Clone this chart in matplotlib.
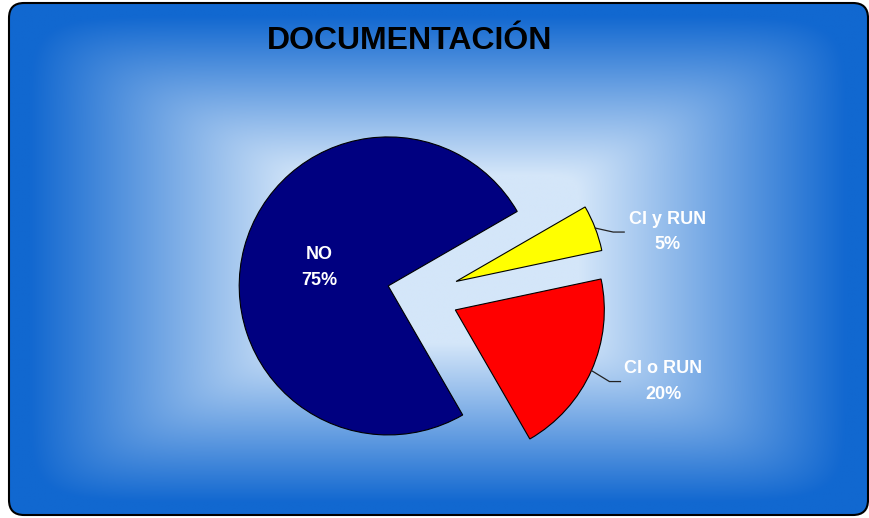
import numpy as np
import matplotlib
matplotlib.use("Agg")
import matplotlib.pyplot as plt
from matplotlib.patches import FancyBboxPatch

plt.rcParams['font.family'] = ['Liberation Sans', 'DejaVu Sans']

# data
labels = ['CI o RUN', 'CI y RUN', 'NO']
shares = [20, 5, 75]
colors = ['#FF0000', '#FFFF00', '#000080']
title = 'DOCUMENTACIÓN'

W, H = 870, 518
fig = plt.figure(figsize=(8.7, 5.18), dpi=100)
ax = fig.add_axes([0, 0, 1, 1])

# background: rectangular gradient from light centre to deep blue edge
x0, x1, y0, y1 = 9, 868, 3, 515
gx = np.linspace(x0, x1, 700)
gy = np.linspace(y0, y1, 420)
XX, YY = np.meshgrid(gx, gy)
cx, cy = 438, 259
dx = np.abs(XX - cx) / ((x1 - x0) / 2)
dy = np.abs(YY - cy) / ((y1 - y0) / 2)
t = (dx ** 12 + dy ** 12) ** (1 / 12)
t = np.clip((t - 0.33) / 0.62, 0, 1)
c_in = np.array([212, 230, 249]) / 255
c_out = np.array([18, 104, 208]) / 255
img = c_in + (c_out - c_in) * t[..., None]
im = ax.imshow(img, extent=(x0, x1, y0, y1), origin='lower',
               interpolation='bilinear', zorder=0)
frame = FancyBboxPatch((x0, y0), x1 - x0, y1 - y0,
                       boxstyle='round,pad=0,rounding_size=15',
                       fc='none', ec='black', lw=1.5, zorder=5)
ax.add_patch(frame)
im.set_clip_path(frame)

# pie
R = 149
center = (421.3, H - 294.8)
explode = [0.25 * R, 0.25 * R, 0.23 * R]
wedges, _ = ax.pie(shares, colors=colors, startangle=-60, counterclock=True,
                   radius=R, center=center, explode=explode,
                   wedgeprops=dict(edgecolor='black', linewidth=0.8))

ax.set_xlim(0, W)
ax.set_ylim(0, H)
ax.set_aspect('auto')
ax.axis('off')

total = sum(shares)
drops = {'CI y RUN': 4, 'CI o RUN': 11}
for w, lab, s in zip(wedges, labels, shares):
    txt = f"{lab}\n{round(100 * s / total)}%"
    mid = np.deg2rad((w.theta1 + w.theta2) / 2)
    wx, wy = w.center
    if lab == 'NO':
        ax.text(wx + 0.48 * R * np.cos(mid), wy + 0.48 * R * np.sin(mid), txt,
                color='white', fontsize=13, fontweight='bold',
                ha='center', va='center', linespacing=1.65, zorder=6)
    else:
        ax_ = wx + R * np.cos(mid)
        ay_ = wy + R * np.sin(mid)
        ly = ay_ - drops[lab]
        ax.plot([ax_, ax_ + 18, ax_ + 29], [ay_, ly, ly], color='#222222', lw=0.9, zorder=6)
        ax.text(ax_ + 72, ly, txt, color='white', fontsize=13, fontweight='bold',
                ha='center', va='center', linespacing=1.65, zorder=6)

ax.text(410, H - 49, title, fontsize=23, fontweight='bold', color='black',
        ha='center', va='baseline', zorder=6)

fig.savefig('out.png', dpi=100)
